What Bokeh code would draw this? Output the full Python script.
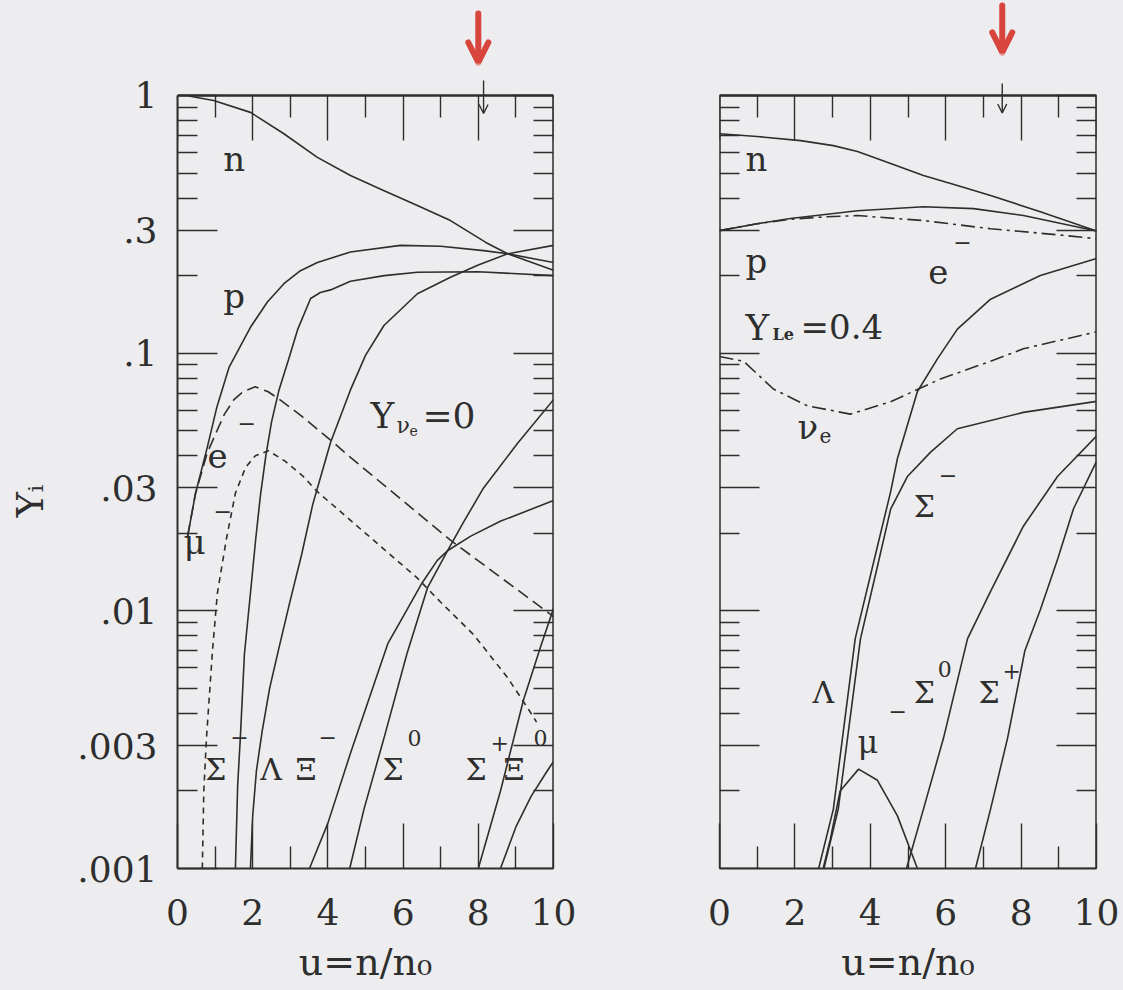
from bokeh.plotting import figure
from bokeh.layouts import row
from bokeh.models import (Range1d, FixedTicker, LinearAxis, LogAxis,
                          CustomJSTickFormatter, Label, Arrow, OpenHead)
from bokeh.embed import file_html
from bokeh.resources import INLINE

# ---------------- axes ----------------
X_LIM = (0, 10)
Y_LIM = (0.001, 1.0)
X_MAJOR = [0, 2, 4, 6, 8, 10]
X_MINOR = [1, 3, 5, 7, 9]
Y_MAJOR = [0.001, 0.003, 0.01, 0.03, 0.1, 0.3, 1.0]
Y_MINOR = [0.002, 0.004, 0.005, 0.006, 0.007, 0.008, 0.009,
           0.02, 0.04, 0.05, 0.06, 0.07, 0.08, 0.09,
           0.2, 0.4, 0.5, 0.6, 0.7, 0.8, 0.9]

# ---------------- left panel: Y_nu_e = 0 ----------------
L_n_u = [0.3, 0.96, 1.94, 2.82, 3.72, 4.6, 5.48, 6.38, 7.26, 8.2, 8.78, 10.0]
L_n_y = [0.995, 0.956, 0.86, 0.712, 0.575, 0.489, 0.428, 0.374, 0.327, 0.269, 0.243, 0.21]

L_p_u = [0.27, 0.48, 0.79, 1.05, 1.37, 1.94, 2.39, 2.83, 3.27, 3.72, 4.6, 5.93, 7.0, 8.14, 8.78, 10.0]
L_p_y = [0.0195, 0.0286, 0.043, 0.062, 0.088, 0.126, 0.158, 0.186, 0.209, 0.225, 0.247, 0.262, 0.26, 0.25, 0.243, 0.225]

L_e_u = [0.27, 0.48, 0.79, 1.05, 1.25, 1.5, 1.75, 2.07, 2.4, 2.66, 3.3, 4.07, 4.6, 7.26, 10.0]
L_e_y = [0.0195, 0.0286, 0.041, 0.05, 0.058, 0.066, 0.071, 0.074, 0.071, 0.067, 0.057, 0.046, 0.0394, 0.0188, 0.0095]

L_mu_u = [0.66, 0.7, 0.77, 0.93, 1.06, 1.3, 1.54, 1.81, 2.07, 2.42, 2.87, 3.32, 3.72, 6.38, 7.0, 7.87, 8.78, 9.31, 9.55]
L_mu_y = [0.001, 0.002, 0.0032, 0.007, 0.0117, 0.019, 0.0286, 0.036, 0.04, 0.0418, 0.038, 0.0335, 0.029, 0.0134, 0.0108, 0.0081, 0.0055, 0.0042, 0.0037]

L_sigm_u = [1.54, 1.6, 1.67, 1.78, 1.94, 2.08, 2.21, 2.35, 2.5, 2.7, 2.95, 3.2, 3.54, 3.8, 4.07, 4.6, 5.5, 6.38, 8.0, 10.0]
L_sigm_y = [0.001, 0.0021, 0.0032, 0.0068, 0.0117, 0.019, 0.0284, 0.040, 0.054, 0.072, 0.094, 0.124, 0.163, 0.172, 0.176, 0.19, 0.2, 0.206, 0.207, 0.2]

L_lam_u = [1.94, 2.0, 2.1, 2.25, 2.45, 2.7, 3.0, 3.3, 3.6, 4.07, 4.6, 5.0, 5.49, 6.38, 7.26, 8.0, 8.78, 10.0]
L_lam_y = [0.001, 0.0016, 0.0024, 0.0034, 0.005, 0.0072, 0.011, 0.0165, 0.026, 0.045, 0.072, 0.098, 0.128, 0.17, 0.197, 0.22, 0.243, 0.262]

L_xim_u = [3.51, 4.0, 4.6, 5.6, 6.0, 6.5, 6.91, 7.18, 7.8, 8.6, 10.0]
L_xim_y = [0.001, 0.0015, 0.0028, 0.0075, 0.0095, 0.0128, 0.0157, 0.0171, 0.0195, 0.0223, 0.0268]

L_sig0_u = [4.58, 4.96, 5.49, 6.1, 6.65, 7.18, 7.6, 8.14, 9.04, 10.0]
L_sig0_y = [0.001, 0.0017, 0.0032, 0.0068, 0.0123, 0.0171, 0.022, 0.030, 0.0446, 0.066]

L_sigp_u = [8.0, 8.59, 9.2, 9.65, 10.0]
L_sigp_y = [0.001, 0.002, 0.0045, 0.0072, 0.0102]

L_xi0_u = [8.59, 9.0, 9.4, 9.84, 10.0]
L_xi0_y = [0.001, 0.00145, 0.0019, 0.0024, 0.0026]

# ---------------- right panel: Y_Le = 0.4 ----------------
R_n_u = [0.0, 1.0, 2.15, 3.02, 3.66, 4.54, 5.41, 6.31, 7.19, 8.51, 10.0]
R_n_y = [0.71, 0.693, 0.668, 0.639, 0.606, 0.545, 0.489, 0.447, 0.409, 0.354, 0.298]

R_p_u = [0.0, 1.0, 1.88, 3.66, 5.41, 6.74, 8.06, 10.0]
R_p_y = [0.299, 0.318, 0.333, 0.357, 0.37, 0.364, 0.342, 0.298]

R_e_u = [0.0, 1.0, 1.88, 2.8, 3.66, 5.41, 7.19, 8.97, 10.0]
R_e_y = [0.299, 0.318, 0.331, 0.338, 0.342, 0.327, 0.304, 0.288, 0.278]

R_nu_u = [0.0, 0.64, 1.43, 2.33, 3.47, 4.54, 5.86, 7.19, 8.06, 10.0]
R_nu_y = [0.097, 0.093, 0.0726, 0.0625, 0.058, 0.0648, 0.0794, 0.093, 0.104, 0.121]

R_lam_u = [2.63, 3.02, 3.6, 4.19, 4.54, 4.72, 5.25, 5.78, 6.31, 7.19, 8.51, 10.0]
R_lam_y = [0.001, 0.0017, 0.0078, 0.0178, 0.029, 0.039, 0.071, 0.095, 0.124, 0.162, 0.2, 0.233]

R_sigm_u = [2.77, 3.15, 3.74, 4.19, 4.54, 4.99, 5.6, 6.31, 8.06, 10.0]
R_sigm_y = [0.001, 0.0017, 0.0078, 0.0149, 0.0248, 0.0333, 0.0413, 0.0509, 0.0589, 0.065]

R_sig0_u = [4.96, 5.41, 5.94, 6.58, 7.19, 8.06, 8.97, 10.0]
R_sig0_y = [0.001, 0.0017, 0.0032, 0.0078, 0.0119, 0.0213, 0.0333, 0.0477]

R_sigp_u = [6.79, 7.19, 7.64, 8.1, 8.51, 8.97, 9.39, 10.0]
R_sigp_y = [0.001, 0.0017, 0.0032, 0.007, 0.0101, 0.0159, 0.0249, 0.038]

R_mu_u = [2.75, 2.94, 3.2, 3.69, 4.19, 4.72, 5.25]
R_mu_y = [0.001, 0.0013, 0.002, 0.00243, 0.0022, 0.0016, 0.001]

# ---------------- density marks above each panel (in Y units) ----------------
MARK_U = [8.14, 7.5]          # small black arrows (left, right panel)
MARK_Y0 = [1.144, 1.113]
MARK_Y1 = [0.851, 0.855]
RED_U = [8.0, 7.5]            # red hand-drawn arrows
RED_Y0 = [2.08, 2.235]
RED_Y1 = [1.343, 1.469]

# ---------------- styling / layout ----------------
BG = "#ededef"
INK = "#2e2e2e"
RED = "#d8453d"
FONT = "DejaVu Serif"
LW = 1.6
TXT_LIFT = 15
Y_VIEW_TOP = 2.337            # view extends above Y=1 to hold the marks
NBSP = "\u00a0"

Y_FMT = CustomJSTickFormatter(code="""
if (tick >= 0.999) { return "1"; }
return tick.toPrecision(1).replace(/^0/, "");
""")


def tick_style(ax):
    ax.major_tick_out = 0
    ax.minor_tick_out = 0
    ax.major_tick_line_color = INK
    ax.minor_tick_line_color = INK
    ax.major_tick_line_width = 1.4
    ax.minor_tick_line_width = 1.4
    ax.axis_line_color = INK
    ax.axis_line_width = 2


def mirror(p, side, cls, loc, positions, length, bounds="auto"):
    ax = cls(ticker=FixedTicker(ticks=[], minor_ticks=positions),
             fixed_location=loc, bounds=bounds)
    tick_style(ax)
    ax.minor_tick_in = length
    ax.major_label_standoff = 0
    p.add_layout(ax, side)


def make_panel(border_left, border_right, fw, fh, ylabels):
    p = figure(frame_width=fw, frame_height=fh,
               min_border_left=border_left, min_border_right=border_right,
               min_border_top=0, min_border_bottom=10,
               x_range=Range1d(*X_LIM), y_range=Range1d(Y_LIM[0], Y_VIEW_TOP),
               y_axis_type="log", x_axis_location=None, y_axis_location=None,
               output_backend="svg", toolbar_location=None)
    p.background_fill_color = BG
    p.border_fill_color = BG
    p.outline_line_color = None
    p.xgrid.visible = False
    p.ygrid.visible = False

    xb = LinearAxis(ticker=FixedTicker(ticks=X_MAJOR, minor_ticks=X_MINOR))
    tick_style(xb)
    xb.major_tick_in = 45
    xb.minor_tick_in = 22
    xb.major_label_text_font = FONT
    xb.major_label_text_font_size = "36px"
    xb.major_label_text_color = INK
    xb.major_label_standoff = 30
    xb.axis_label = "u=n/n\u2080"
    xb.axis_label_text_font = FONT
    xb.axis_label_text_font_size = "38px"
    xb.axis_label_text_font_style = "normal"
    xb.axis_label_text_color = INK
    xb.axis_label_standoff = 12
    p.add_layout(xb, "below")

    mirror(p, "above", LinearAxis, Y_LIM[1], X_MAJOR, 45)
    mirror(p, "above", LinearAxis, Y_LIM[1], X_MINOR, 22)
    mirror(p, "right", LogAxis, X_LIM[1], Y_MAJOR, 40, Y_LIM)
    mirror(p, "right", LogAxis, X_LIM[1], Y_MINOR, 20, Y_LIM)

    if ylabels:
        yl = LogAxis(ticker=FixedTicker(ticks=Y_MAJOR, minor_ticks=Y_MINOR), bounds=Y_LIM)
        tick_style(yl)
        yl.major_tick_in = 40
        yl.minor_tick_in = 20
        yl.formatter = Y_FMT
        yl.major_label_text_font = FONT
        yl.major_label_text_font_size = "36px"
        yl.major_label_text_color = INK
        yl.major_label_standoff = 20
        # label is centred on the full view; trailing no-break spaces move
        # the visible "Y_i" down to the middle of the Y = .001 ... 1 box
        yl.axis_label = "Y\u1d62" + NBSP * 11
        yl.axis_label_text_font = FONT
        yl.axis_label_text_font_size = "38px"
        yl.axis_label_text_font_style = "normal"
        yl.axis_label_text_color = INK
        yl.axis_label_standoff = 22
        p.add_layout(yl, "left")
    else:
        mirror(p, "left", LogAxis, X_LIM[0], Y_MAJOR, 40, Y_LIM)
        mirror(p, "left", LogAxis, X_LIM[0], Y_MINOR, 20, Y_LIM)
    return p


def curve(p, u, y, dash="solid"):
    p.line(u, y, line_color=INK, line_width=LW, line_dash=dash)


def txt(p, u, y, s, size, dx=0, dy=0, style="normal"):
    p.add_layout(Label(x=u, y=y, x_offset=dx, y_offset=dy + TXT_LIFT, text=s,
                       text_font=FONT, text_font_size=f"{size}px",
                       text_font_style=style, text_color=INK,
                       text_align="left", text_baseline="alphabetic"))


def marks(p, i):
    p.add_layout(Arrow(x_start=RED_U[i], y_start=RED_Y0[i], x_end=RED_U[i], y_end=RED_Y1[i],
                       line_color=RED, line_width=6, line_cap="round", start=None,
                       end=OpenHead(size=20, line_color=RED, line_width=6, line_cap="round")))
    p.add_layout(Arrow(x_start=MARK_U[i], y_start=MARK_Y0[i], x_end=MARK_U[i], y_end=MARK_Y1[i],
                       line_color=INK, line_width=1.4, start=None,
                       end=OpenHead(size=9, line_color=INK, line_width=1.4)))


# ---------------- left panel ----------------
p1 = make_panel(177, 83, 376, 868, True)
curve(p1, L_n_u, L_n_y)
curve(p1, L_p_u, L_p_y)
curve(p1, L_e_u, L_e_y, "12 6")
curve(p1, L_mu_u, L_mu_y, "6 5")
curve(p1, L_sigm_u, L_sigm_y)
curve(p1, L_lam_u, L_lam_y)
curve(p1, L_xim_u, L_xim_y)
curve(p1, L_sig0_u, L_sig0_y)
curve(p1, L_sigp_u, L_sigp_y)
curve(p1, L_xi0_u, L_xi0_y)
marks(p1, 0)

txt(p1, 1.22, 0.498, "n", 34)
txt(p1, 1.22, 0.146, "p", 34)
txt(p1, 0.8, 0.0352, "e", 34)
txt(p1, 0.8, 0.0352, "\u2212", 22, 30, 32)
txt(p1, 0.16, 0.0162, "\u03bc", 34)
txt(p1, 0.16, 0.0162, "\u2212", 22, 30, 31)
txt(p1, 5.13, 0.0501, "Y", 36)
txt(p1, 5.13, 0.0501, "\u03bd", 22, 26, -10)
txt(p1, 5.13, 0.0501, "e", 14, 39, -15)
txt(p1, 5.13, 0.0501, "=0", 36, 52)
txt(p1, 0.74, 0.00212, "\u03a3", 30)
txt(p1, 0.74, 0.00212, "\u2212", 22, 25, 32)
txt(p1, 2.2, 0.00212, "\u039b", 30)
txt(p1, 3.14, 0.00212, "\u039e", 30)
txt(p1, 3.14, 0.00212, "\u2212", 22, 23, 32)
txt(p1, 5.45, 0.00212, "\u03a3", 30)
txt(p1, 5.45, 0.00212, "0", 22, 25, 31)
txt(p1, 7.66, 0.00212, "\u03a3", 30)
txt(p1, 7.66, 0.00212, "+", 22, 25, 26)
txt(p1, 8.67, 0.00212, "\u039e", 30)
txt(p1, 8.67, 0.00212, "0", 22, 30, 31)

# ---------------- right panel ----------------
p2 = make_panel(83, 27, 377, 868, False)
curve(p2, R_n_u, R_n_y)
curve(p2, R_p_u, R_p_y)
curve(p2, R_e_u, R_e_y, "14 5 3 5")
curve(p2, R_nu_u, R_nu_y, "14 5 3 5")
curve(p2, R_lam_u, R_lam_y)
curve(p2, R_sigm_u, R_sigm_y)
curve(p2, R_sig0_u, R_sig0_y)
curve(p2, R_sigp_u, R_sigp_y)
curve(p2, R_mu_u, R_mu_y)
marks(p2, 1)

txt(p2, 0.69, 0.498, "n", 34)
txt(p2, 0.69, 0.2, "p", 34)
txt(p2, 5.54, 0.181, "e", 34)
txt(p2, 5.54, 0.181, "\u2212", 22, 25, 30)
txt(p2, 0.69, 0.110, "Y", 36)
txt(p2, 0.69, 0.110, "Le", 16, 27, -7, "bold")
txt(p2, 0.69, 0.110, "=0.4", 34, 55)
txt(p2, 2.07, 0.0452, "\u03bd", 34)
txt(p2, 2.07, 0.0452, "e", 20, 22, -8)
txt(p2, 5.15, 0.0222, "\u03a3", 30)
txt(p2, 5.15, 0.0222, "\u2212", 22, 25, 32)
txt(p2, 2.47, 0.0042, "\u039b", 30)
txt(p2, 5.15, 0.0042, "\u03a3", 30)
txt(p2, 5.15, 0.0042, "0", 22, 24, 24)
txt(p2, 6.87, 0.0042, "\u03a3", 30)
txt(p2, 6.87, 0.0042, "+", 22, 24, 22)
txt(p2, 3.66, 0.0027, "\u03bc", 32)
txt(p2, 3.66, 0.0027, "\u2212", 22, 31, 31)

layout = row(p1, p2)
html = file_html(layout, INLINE)
css = "<style>html,body{margin:0;padding:0;overflow:hidden;background:%s;}</style>" % BG
html = html.replace("</head>", css + "</head>", 1)
open("out.html", "w").write(html)
